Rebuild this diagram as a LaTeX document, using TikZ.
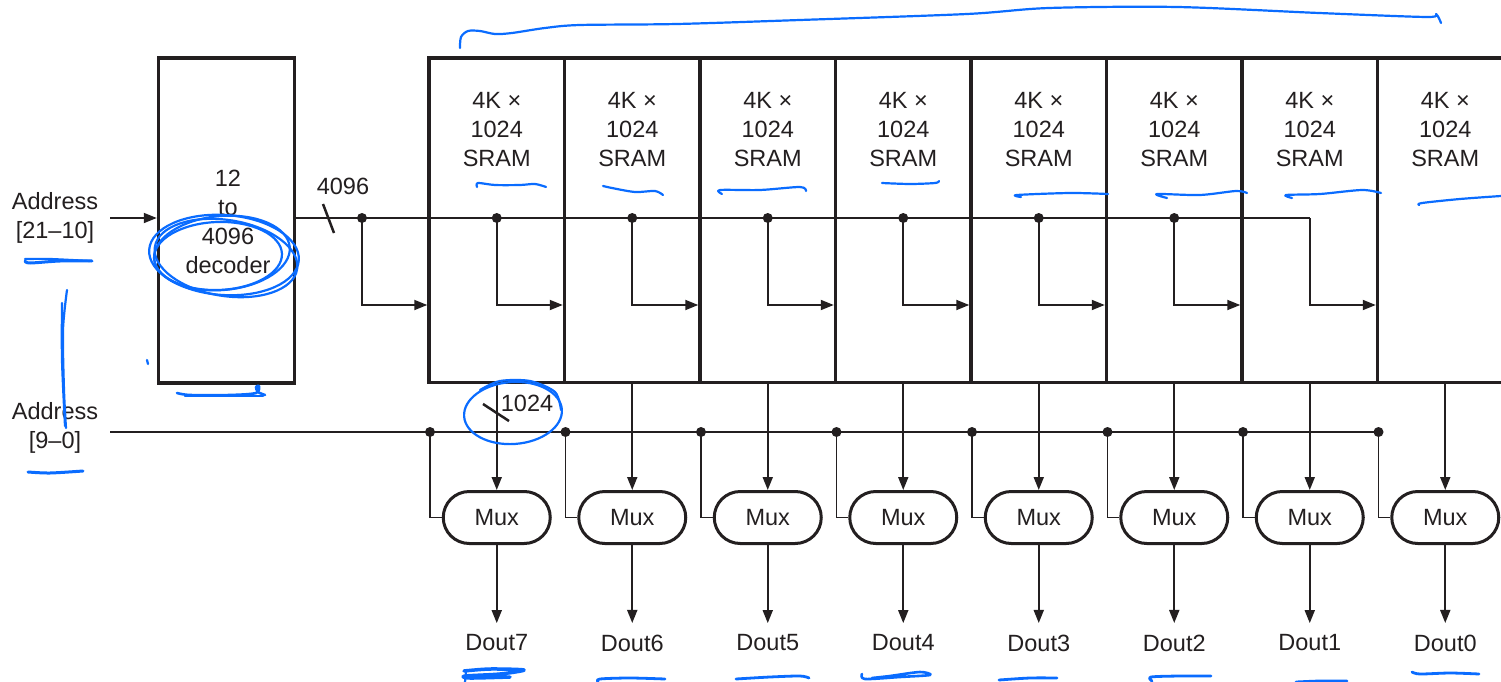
\documentclass[tikz,border=0pt]{standalone}
\usepackage{fontspec}
\setmainfont{Liberation Sans}
\usetikzlibrary{arrows.meta,calc}
\definecolor{ink}{HTML}{231F20}
\definecolor{penblue}{HTML}{0A6CFF}
\begin{document}
\begin{tikzpicture}[x=1pt,y=-1pt,
  wire/.style={line width=1.8pt, draw=ink},
  arr/.style={wire, -{Triangle[length=13pt,width=10pt]}},
  box/.style={draw=ink, line width=3.5pt, minimum width=135.5pt, minimum height=324pt, inner sep=0pt},
  mux/.style={draw=ink, line width=3pt, rounded corners=26pt, minimum width=107pt, minimum height=52pt, inner sep=0pt, font=\fontsize{23.5}{29}\selectfont, text=ink},
  lbl/.style={align=center, font=\fontsize{23.5}{29}\selectfont, text=ink, inner sep=0pt},
  pen/.style={draw=penblue, line width=2.2pt, line cap=round, line join=round},
]
\useasboundingbox (0,0) rectangle (1501,682);
\clip (0,0) rectangle (1501,682);
\fill[white] (0,0) rectangle (1501,682);

% labels on the left
\node[lbl] (a1) at (55,217.5) {Address\\{}[21--10]};
\node[lbl] (a2) at (55,427.5) {Address\\{}[9--0]};
\coordinate (a1in) at (110,218);
\coordinate (a2in) at (110,432);
\coordinate (row) at (0,305);

% decoder
\node[box, minimum width=136pt, minimum height=325pt] (dec) at (226.5,220.5) {};
\node[lbl] (dect) at (228,222) {12\\to\\4096\\decoder};
\draw[arr] (a1in) -- (a1in -| dec.west);

% columns
\foreach \k in {0,...,7}{
  \pgfmathsetmacro\L{429+135.5*\k}
  \pgfmathsetmacro\C{\L+67.75}
  \pgfmathtruncatemacro\D{7-\k}
  \pgfmathsetmacro\J{ifthenelse(\k==0,362,\L-67.75)}
  \node[box] (s\k) at (\C,220.25) {};
  \node[lbl] (t\k) at (\C,130) {4K ×\\1024\\SRAM};
  \node[mux] (m\k) at (\C,517.5) {Mux};
  \node[lbl, inner ysep=11.5pt] (o\k) at (\C,643) {Dout\D};
  \coordinate (d\k) at (\L+1,432);
  \coordinate (j\k) at (\J,218);
}

% 4096-wide bus
\draw[wire] (dec.east |- j0) -- (j7);
\foreach \k in {0,...,7}{
  \draw[arr] (j\k) |- (s\k.west |- row);
}
\foreach \k in {0,...,6}{
  \fill[ink] (j\k) circle (5pt);
}
\draw[ink, line width=2.5pt] (323,204) -- (334,233);
\node[lbl] (w1) at (343,186) {4096};

% address [9-0] bus
\draw[wire] (a2in) -- (d7);
\foreach \k in {0,...,7}{
  \draw[wire] (d\k) |- (m\k.west);
  \fill[ink] (d\k) circle (5pt);
  \draw[arr] (s\k.south) -- (m\k.north);
  \draw[arr] (m\k.south) -- (o\k.north);
}
\draw[ink, line width=2.5pt] (483,404) -- (509,421);
\node[lbl] (w2) at (527,403) {1024};

% blue hand annotations
\draw[pen] plot[smooth] coordinates {(460,48) (461,37) (468,31) (480,31) (495,34) (512,33) (545,28) (580,25) (677,24) (800,20) (967,14) (1049,8) (1177,7) (1319,13) (1427,17) (1436,14) (1441,23)};
\draw[pen] (224,255) ellipse [x radius=75pt, y radius=40pt, rotate=-4];
\draw[pen] (222,253) ellipse [x radius=68pt, y radius=37pt, rotate=5];
\draw[pen] (226,258) ellipse [x radius=72pt, y radius=38pt, rotate=-9];
\draw[pen] (218,256) ellipse [x radius=64pt, y radius=34pt, rotate=2];
\draw[pen, line width=3pt] plot[smooth] coordinates {(25,261) (30,263) (60,261) (92,261)};
\draw[pen] plot[smooth] coordinates {(25,259) (50,259) (90,261)};
\draw[pen] plot[smooth] coordinates {(67,290) (63,330) (64,390) (66,428)};
\draw[pen] plot[smooth] coordinates {(62,303) (62,360) (65,426)};
\draw[pen] (147,360) -- (148,364);
\draw[pen, line width=2.6pt] plot[smooth] coordinates {(177,393) (190,395) (230,395) (256,393) (259,386) (256,387) (258,392) (265,395)};
\draw[pen] (185,396) -- (263,396);
\draw[pen, line width=3pt] plot[smooth] coordinates {(28,472) (50,473) (83,471)};
\draw[pen] (513,413) ellipse [x radius=49pt, y radius=31pt, rotate=4];
\draw[pen] plot[smooth] coordinates {(480,390) (500,381) (530,381) (555,392) (561,410)};
% SRAM underlines
\draw[pen] plot[smooth] coordinates {(477,187) (478,183) (495,185) (520,185) (535,184) (546,187)};
\draw[pen] plot[smooth] coordinates {(603,186) (612,188) (635,192) (655,191) (663,195)};
\draw[pen] plot[smooth] coordinates {(722,194) (720,190) (760,190) (800,187) (806,191)};
\draw[pen] plot[smooth] coordinates {(882,183) (910,184) (935,183) (939,181)};
\draw[pen] plot[smooth] coordinates {(1021,197) (1017,195) (1070,193) (1108,194)};
\draw[pen] plot[smooth] coordinates {(1167,198) (1157,194) (1200,195) (1236,191) (1247,193)};
\draw[pen] plot[smooth] coordinates {(1292,198) (1286,195) (1320,194) (1362,190) (1381,193)};
\draw[pen] plot[smooth] coordinates {(1419,205) (1422,203) (1460,199) (1501,196)};
% Dout underlines
\draw[pen, line width=3.5pt] plot[smooth] coordinates {(464,671) (490,669) (524,670) (500,674) (465,676) (470,678) (510,677)};
\draw[pen] (466,672) -- (465,682);
\draw[pen, line width=2.8pt] plot[smooth] coordinates {(598,682) (600,679) (630,678) (665,679)};
\draw[pen, line width=2.8pt] plot[smooth] coordinates {(736,679) (770,677) (800,676) (809,678)};
\draw[pen, line width=2.6pt] plot[smooth] coordinates {(862,674) (865,679) (900,677) (930,675) (920,672) (890,676) (872,678)};
\draw[pen, line width=2.8pt] plot[smooth] coordinates {(999,680) (1030,678) (1057,678)};
\draw[pen, line width=2.8pt] plot[smooth] coordinates {(1152,681) (1151,677) (1180,676) (1211,676)};
\draw[pen, line width=2.8pt] plot[smooth] coordinates {(1296,682) (1320,681) (1347,681)};
\draw[pen, line width=2.8pt] plot[smooth] coordinates {(1412,672) (1420,674) (1450,673) (1479,674)};
\end{tikzpicture}
\end{document}
